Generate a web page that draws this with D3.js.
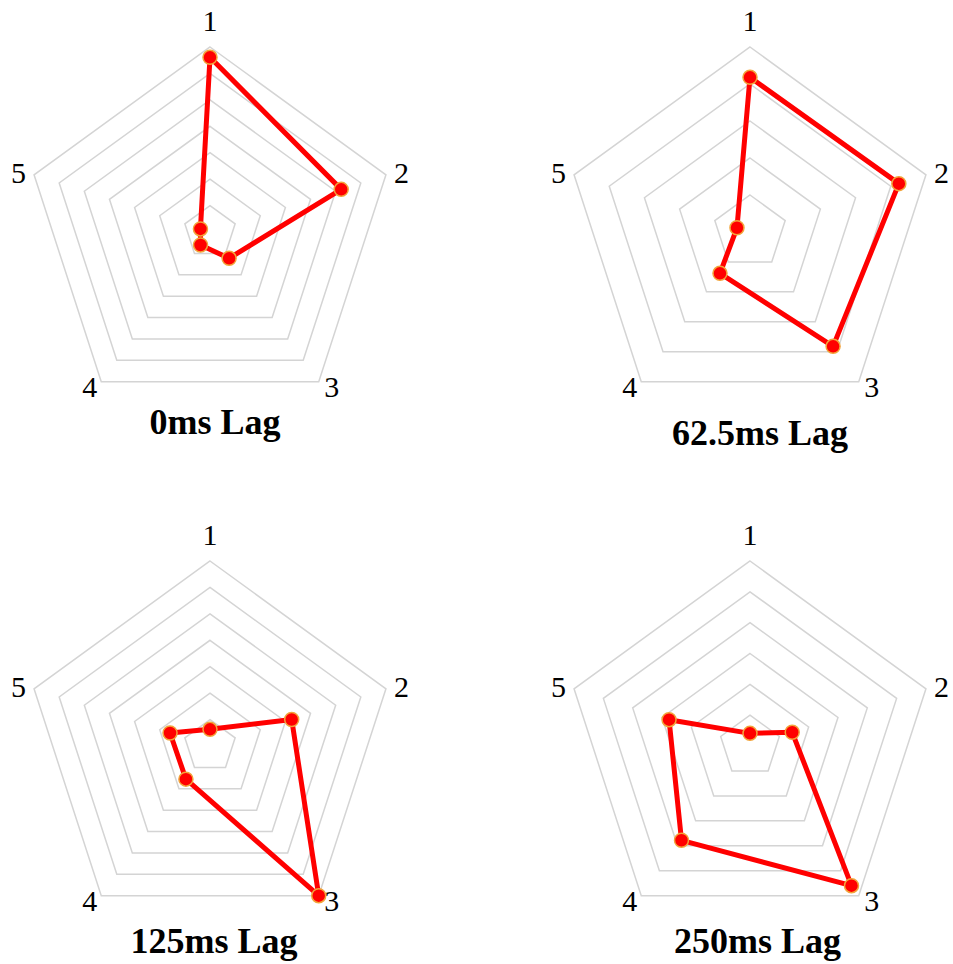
<!DOCTYPE html>
<html>
<head>
<meta charset="utf-8">
<script src="https://cdn.jsdelivr.net/npm/d3@7"></script>
<style>
  html, body { margin: 0; padding: 0; background: #fff; }
  svg { display: block; }
</style>
</head>
<body>
<svg id="chart" width="953" height="964"></svg>
<script>
// ---- data ----
const categories = ["1", "2", "3", "4", "5"];
const titles = ["0ms Lag", "62.5ms Lag", "125ms Lag", "250ms Lag"];
const gridLevels = [7, 5, 7, 6];
const lag0 = [6.61, 5.22, 1.23, 0.61, 0.38];
const lag62 = [4.18, 4.23, 3.82, 1.38, 0.37];
const lag125 = [0.63, 3.25, 7.0, 1.55, 1.59];
const lag250 = [0.41, 1.44, 5.6, 3.78, 2.76];
const seriesList = [lag0, lag62, lag125, lag250];

// ---- layout ----
const R = 185;
const centers = [[210, 232], [750, 232], [210, 746], [750, 746]];
const titlePos = [[215, 434], [760, 445], [214, 953], [757.5, 953]];
const labelTweak = [[0, 0], [0, 13], [3.5, 2.5], [-2, 2.5], [0, 13]];

const svg = d3.select("#chart");
const angle = d3.scalePoint().domain(categories).range([0, 2 * Math.PI * (categories.length - 1) / categories.length]);

seriesList.forEach((vals, k) => {
  const levels = gridLevels[k];
  const r = d3.scaleLinear().domain([0, levels]).range([0, R]);
  const g = svg.append("g").attr("transform", `translate(${centers[k][0]},${centers[k][1]})`);

  const polyPt = (a, rad) => [rad * Math.sin(a), -rad * Math.cos(a)];

  // grid rings
  const ringLine = d3.line();
  d3.range(1, levels + 1).forEach(i => {
    const pts = categories.map(c => polyPt(angle(c), r(i)));
    g.append("path")
      .attr("d", ringLine(pts) + "Z")
      .attr("fill", "none")
      .attr("stroke", "#d4d4d4")
      .attr("stroke-width", 1.5);
  });

  // axis labels
  categories.forEach((c, i) => {
    const p = polyPt(angle(c), R * 1.088);
    g.append("text")
      .attr("x", p[0] + labelTweak[i][0])
      .attr("y", p[1] + labelTweak[i][1])
      .attr("text-anchor", "middle")
      .attr("font-family", "'Liberation Serif', 'Times New Roman', serif")
      .attr("font-size", 30)
      .attr("fill", "#000")
      .text(c);
  });

  // data line
  const radial = d3.lineRadial()
    .angle((d, i) => angle(categories[i]))
    .radius(d => r(d))
    .curve(d3.curveLinearClosed);
  g.append("path")
    .attr("d", radial(vals))
    .attr("fill", "none")
    .attr("stroke", "#ff0000")
    .attr("stroke-width", 5)
    .attr("stroke-linejoin", "round");

  // points
  g.selectAll("circle.pt").data(vals).join("circle")
    .attr("class", "pt")
    .attr("cx", (d, i) => polyPt(angle(categories[i]), r(d))[0])
    .attr("cy", (d, i) => polyPt(angle(categories[i]), r(d))[1])
    .attr("r", 7)
    .attr("fill", "#ff0000")
    .attr("stroke", "#f2a43a")
    .attr("stroke-width", 1.5);

  // title
  svg.append("text")
    .attr("x", titlePos[k][0])
    .attr("y", titlePos[k][1])
    .attr("text-anchor", "middle")
    .attr("font-family", "'Liberation Serif', 'Times New Roman', serif")
    .attr("font-weight", "bold")
    .attr("font-size", 36)
    .attr("fill", "#000")
    .text(titles[k]);
});
</script>
</body>
</html>
